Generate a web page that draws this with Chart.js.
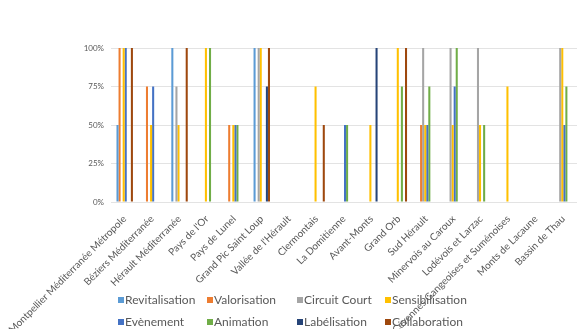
<!DOCTYPE html>
<html>
<head>
<meta charset="utf-8">
<script src="https://cdn.jsdelivr.net/npm/chart.js@4/dist/chart.umd.min.js"></script>
<style>
  html, body { margin: 0; padding: 0; background: #ffffff; }
  #wrap { position: relative; width: 578px; height: 329px; }
</style>
</head>
<body>
<div id="wrap"><canvas id="c" width="578" height="329"></canvas></div>
<script>
// Territories (EPCI) shown along the x axis
const categories = [
  "Montpellier Méditerranée Métropole",
  "Béziers Méditerranée",
  "Hérault Méditerranée",
  "Pays de l'Or",
  "Pays de Lunel",
  "Grand Pic Saint Loup",
  "Vallée de l'Hérault",
  "Clermontais",
  "La Domitienne",
  "Avant-Monts",
  "Grand Orb",
  "Sud Hérault",
  "Minervois au Caroux",
  "Lodévois et Larzac",
  "Cévennes Gangeoises et Suménoises",
  "Monts de Lacaune",
  "Bassin de Thau"
];

// Share of actions per theme (0..1)
const revitalisation  = [0.5, 0,    1,    0, 0,   1,    0, 0,    0,   0,   0,    0,    0,    0,   0,    0, 0];
const valorisation    = [1,   0.75, 0,    0, 0.5, 0,    0, 0,    0,   0,   0,    0.5,  0,    0,   0,    0, 0];
const circuitCourt    = [0,   0,    0.75, 0, 0,   1,    0, 0,    0,   0,   0,    1,    1,    1,   0,    0, 1];
const sensibilisation = [1,   0.5,  0.5,  1, 0.5, 1,    0, 0.75, 0,   0.5, 1,    0.5,  0.5,  0.5, 0.75, 0, 1];
const evenement       = [1,   0.75, 0,    0, 0.5, 0,    0, 0,    0.5, 0,   0,    0.5,  0.75, 0,   0,    0, 0.5];
const animation       = [0,   0,    0,    1, 0.5, 0,    0, 0,    0.5, 0,   0.75, 0.75, 1,    0.5, 0,    0, 0.75];
const labelisation    = [0,   0,    0,    0, 0,   0.75, 0, 0,    0,   1,   0,    0,    0,    0,   0,    0, 0];
const collaboration   = [1,   0,    1,    0, 0,   1,    0, 0.5,  0,   0,   1,    0,    0,    0,   0,    0, 0];

const yTicks = [0, 0.25, 0.5, 0.75, 1];

const seriesNames  = ["Revitalisation", "Valorisation", "Circuit Court", "Sensibilisation",
                      "Evènement", "Animation", "Labélisation", "Collaboration"];
const seriesValues = [revitalisation, valorisation, circuitCourt, sensibilisation,
                      evenement, animation, labelisation, collaboration];
const seriesColors = ["#5B9BD5", "#ED7D31", "#A5A5A5", "#FFC000",
                      "#4472C4", "#70AD47", "#264478", "#9E480E"];

const datasets = seriesNames.map((name, i) => ({
  label: name,
  data: seriesValues[i],
  backgroundColor: seriesColors[i],
  borderWidth: 0,
  categoryPercentage: 0.6,
  barPercentage: 1.0
}));

const FONT = "Lato, 'Open Sans', 'Liberation Sans', sans-serif";
const TEXT = "#595959";

// Legend laid out as a 4-column grid under the axis labels
const gridLegend = {
  id: "gridLegend",
  afterDraw(chart) {
    const ctx = chart.ctx;
    const cols = [118, 207, 297, 385];
    const rows = [300, 322];
    ctx.save();
    ctx.font = "12px " + FONT;
    ctx.textBaseline = "middle";
    ctx.textAlign = "left";
    chart.data.datasets.forEach((ds, i) => {
      const x = cols[i % 4];
      const y = rows[Math.floor(i / 4)];
      ctx.fillStyle = ds.backgroundColor;
      ctx.fillRect(x, y - 3, 6, 6);
      ctx.fillStyle = TEXT;
      ctx.fillText(ds.label, x + 7, y);
    });
    ctx.restore();
  }
};

new Chart(document.getElementById("c"), {
  type: "bar",
  data: { labels: categories, datasets },
  options: {
    responsive: false,
    animation: false,
    layout: { padding: { top: 48, right: 1, left: 0, bottom: 0 } },
    plugins: {
      legend: { display: false },
      tooltip: { enabled: false }
    },
    scales: {
      x: {
        grid: { display: false },
        border: { display: false },
        ticks: {
          autoSkip: false,
          maxRotation: 45,
          minRotation: 45,
          color: TEXT,
          font: { family: FONT, size: 10 },
          padding: 3
        },
        afterFit(scale) {
          scale.height = 127;
          scale.paddingLeft = 0;
          scale.paddingRight = 0;
        }
      },
      y: {
        min: 0,
        max: 1,
        afterBuildTicks(scale) {
          scale.ticks = yTicks.map(v => ({ value: v }));
        },
        grid: { color: "#e3e3e3", lineWidth: 1, drawTicks: false },
        border: { display: false },
        ticks: {
          color: TEXT,
          font: { family: FONT, size: 8 },
          padding: 7,
          callback: v => Math.round(v * 100) + "%"
        },
        afterFit(scale) {
          scale.width = 111;
        }
      }
    }
  },
  plugins: [gridLegend]
});
</script>
</body>
</html>
